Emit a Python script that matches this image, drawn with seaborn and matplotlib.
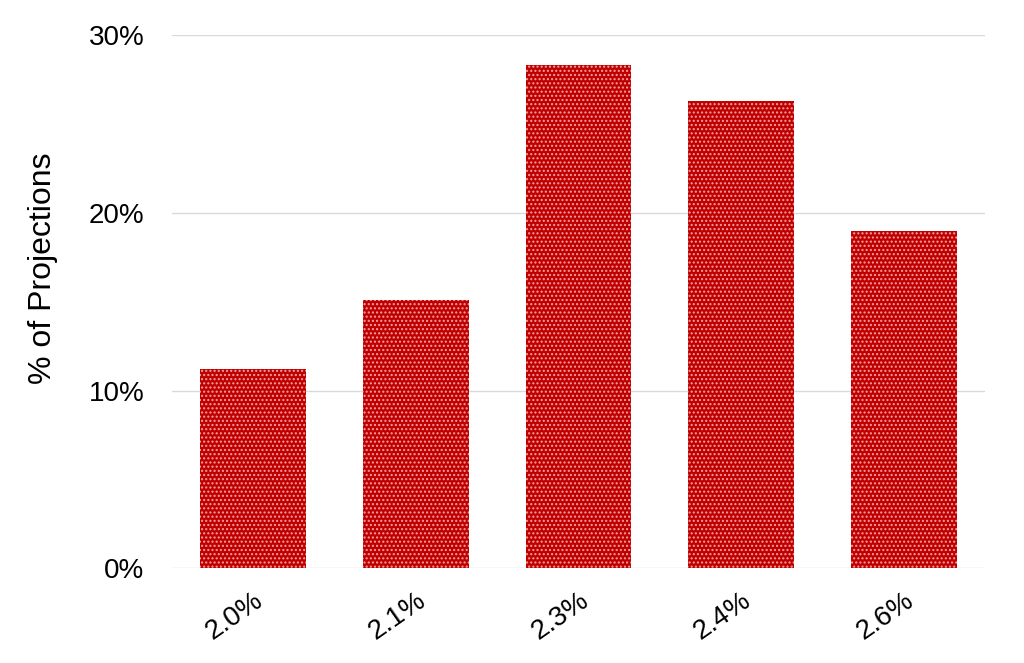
import matplotlib
matplotlib.use("Agg")
import matplotlib.pyplot as plt
import seaborn as sns
import pandas as pd
from matplotlib.ticker import FuncFormatter

categories = ["2.0%", "2.1%", "2.3%", "2.4%", "2.6%"]
values = [11.2, 15.1, 28.3, 26.3, 19.0]
yticks = [0, 10, 20, 30]

sns.set_theme(style="white")
plt.rcParams['font.family'] = ['Liberation Sans', 'DejaVu Sans']
plt.rcParams['hatch.linewidth'] = 1.0

df = pd.DataFrame({"cat": categories, "val": values})

fig = plt.figure(figsize=(10.24, 6.63), dpi=100)
ax = fig.add_axes([0.168, 0.143, 0.794, 0.804])
sns.barplot(data=df, x="cat", y="val", color="#C00000", saturation=1,
            width=0.65, ax=ax, zorder=3)
for p in ax.patches:
    p.set_facecolor("#C00000")
    p.set_edgecolor("#F2A0A0")
    p.set_linewidth(0)
    p.set_hatch("....")

ax.set_ylim(0, 30)
ax.set_yticks(yticks)
ax.yaxis.set_major_formatter(FuncFormatter(lambda v, _: f"{v:.0f}%"))
ax.grid(axis="y", color="#D9D9D9", linewidth=1, zorder=0)
ax.set_axisbelow(True)
for s in ax.spines.values():
    s.set_visible(False)
ax.tick_params(axis="y", labelsize=20, length=0, pad=20, colors="black")
ax.tick_params(axis="x", labelsize=20, length=0, pad=14, colors="black")
for lbl in ax.get_xticklabels():
    lbl.set_rotation(35)
    lbl.set_ha("right")
    lbl.set_rotation_mode("anchor")
ax.set_xlabel("")
ax.set_ylabel("% of Projections", fontsize=23, color="black")
ax.yaxis.set_label_coords(-0.140, 0.563)

fig.savefig("out.png", dpi=100)
